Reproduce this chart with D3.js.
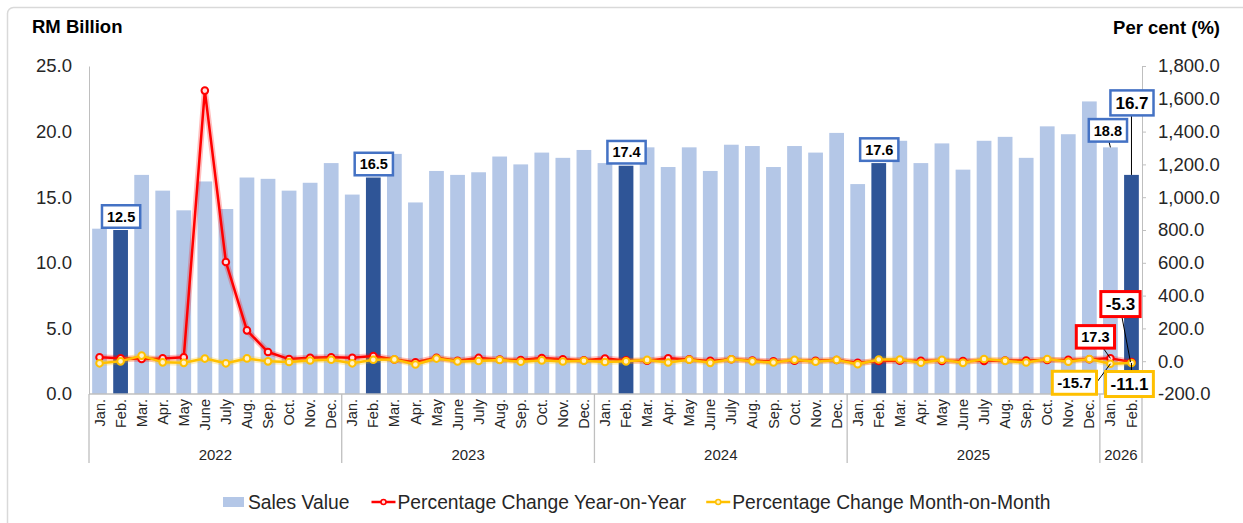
<!DOCTYPE html>
<html>
<head>
<meta charset="utf-8">
<script src="https://cdn.jsdelivr.net/npm/d3@7"></script>
<style>
  body { margin: 0; background: #fff; }
  svg { display: block; font-family: "Liberation Sans", Arial, sans-serif; }
</style>
</head>
<body>
<div id="chart"></div>
<script>
// categories
const years = ["2022", "2023", "2024", "2025", "2026"];
const monthNames = ["Jan.", "Feb.", "Mar.", "Apr.", "May", "June", "July", "Aug.", "Sep.", "Oct.", "Nov.", "Dec."];
const monthsPerYear = [12, 12, 12, 12, 2];

// sales value, RM billion
const sales = [
  12.6, 12.5, 16.7, 15.5, 14.0, 16.2, 14.1, 16.5, 16.4, 15.5, 16.1, 17.6,
  15.2, 16.5, 18.3, 14.6, 17.0, 16.7, 16.9, 18.1, 17.5, 18.4, 18.0, 18.6,
  17.6, 17.4, 18.8, 17.3, 18.8, 17.0, 19.0, 18.9, 17.3, 18.9, 18.4, 19.9,
  16.0, 17.6, 19.3, 17.6, 19.1, 17.1, 19.3, 19.6, 18.0, 20.4, 19.8, 22.3,
  18.8, 16.7
];

// percentage change year-on-year
const yoy = [
  24, 18, 13, 17, 24, 1650, 605, 188, 56, 13, 21, 24,
  21, 32, 10, -6, 21, 3, 20, 10, 7, 19, 12, 6,
  16, 5, 3, 18, 11, 2, 12, 4, -1, 3, 2, 7,
  -9, 1, 3, 2, 2, 1, 2, 4, 4, 8, 8, 12,
  17.3, -5.3
];

// percentage change month-on-month
const mom = [
  -13, -1, 34, -7, -10, 16, -13, 17, -1, -5, 4, 9,
  -13, 9, 11, -20, 16, -2, 1, 7, -3, 5, -2, 3,
  -5, -1, 8, -8, 9, -10, 12, -1, -8, 9, -3, 8,
  -19, 10, 10, -9, 9, -10, 13, 2, -8, 13, -3, 13,
  -15.7, -11.1
];

const leftTicks = [0, 5, 10, 15, 20, 25];
const rightTicks = [-200, 0, 200, 400, 600, 800, 1000, 1200, 1400, 1600, 1800];

// build category list
const cats = [];
years.forEach((y, yi) => {
  for (let m = 0; m < monthsPerYear[yi]; m++) cats.push({ year: y, month: monthNames[m] });
});
const idx = cats.map((d, i) => i);

const W = 1243, H = 523;
const plot = { left: 89, right: 1142, top: 66, bottom: 394 };

// plain hyphen for negatives, like the original
const loc = d3.formatLocale({ decimal: ".", thousands: ",", grouping: [3], currency: ["", ""], minus: "-" });
const fmt = loc.format(".1f");
const fmtR = loc.format(",.1f");

const svg = d3.select("#chart").append("svg")
  .attr("width", W)
  .attr("height", H);

// outer frame (only top / left edges visible in the crop)
svg.append("rect")
  .attr("x", 7.5).attr("y", 7.5)
  .attr("width", 1260).attr("height", 540)
  .attr("rx", 6)
  .attr("fill", "none")
  .attr("stroke", "#d9d9d9")
  .attr("stroke-width", 1.5);

const x = d3.scaleBand()
  .domain(idx)
  .range([plot.left, plot.right])
  .paddingInner(0.3)
  .paddingOuter(0.15);
const step = x.step();

const yL = d3.scaleLinear().domain([0, 25]).range([plot.bottom, plot.top]);
const yR = d3.scaleLinear().domain([-200, 1800]).range([plot.bottom, plot.top]);

const axisGrey = "#bfbfbf";
const textCol = "#262626";

// bars
svg.append("g").selectAll("rect")
  .data(sales)
  .join("rect")
  .attr("x", (d, i) => x(i))
  .attr("y", d => yL(d))
  .attr("width", x.bandwidth())
  .attr("height", d => yL(0) - yL(d))
  .attr("fill", (d, i) => cats[i].month === "Feb." ? "#2f5597" : "#b4c7e7");

// left axis
const leftAxis = svg.append("g")
  .attr("transform", `translate(${plot.left},0)`)
  .call(d3.axisLeft(yL).tickValues(leftTicks).tickFormat(fmt).tickSize(0).tickPadding(17));
leftAxis.select(".domain").attr("stroke", axisGrey);
leftAxis.selectAll("text").attr("font-size", 18.5).attr("fill", textCol).attr("font-family", null);

// right axis
const rightAxis = svg.append("g")
  .attr("transform", `translate(${plot.right},0)`)
  .call(d3.axisRight(yR).tickValues(rightTicks).tickFormat(fmtR).tickSizeInner(4).tickSizeOuter(4).tickPadding(12));
rightAxis.select(".domain").attr("stroke", axisGrey);
rightAxis.selectAll(".tick line").attr("stroke", axisGrey);
rightAxis.selectAll("text").attr("font-size", 18.5).attr("fill", textCol).attr("font-family", null);

// bottom axis line
svg.append("line")
  .attr("x1", plot.left).attr("x2", plot.right)
  .attr("y1", plot.bottom).attr("y2", plot.bottom)
  .attr("stroke", axisGrey).attr("stroke-width", 1.3);

// month labels
svg.append("g").selectAll("text")
  .data(cats)
  .join("text")
  .attr("transform", (d, i) => `translate(${x(i) + x.bandwidth() / 2},399) rotate(-90)`)
  .attr("dy", "0.35em")
  .attr("text-anchor", "end")
  .attr("font-size", 14.5)
  .attr("fill", textCol)
  .text(d => d.month);

// year groups
let start = 0;
const groups = years.map((y, yi) => {
  const g = { year: y, start: start, end: start + monthsPerYear[yi] };
  start = g.end;
  return g;
});
const edge = i => plot.left + i * step;
const sepX = [0].concat(groups.map(g => g.end));
svg.append("g").selectAll("line")
  .data(sepX)
  .join("line")
  .attr("x1", d => edge(d)).attr("x2", d => edge(d))
  .attr("y1", plot.bottom).attr("y2", 463)
  .attr("stroke", axisGrey).attr("stroke-width", 1.3);
svg.append("g").selectAll("text")
  .data(groups)
  .join("text")
  .attr("x", d => (edge(d.start) + edge(d.end)) / 2)
  .attr("y", 460)
  .attr("text-anchor", "middle")
  .attr("font-size", 15)
  .attr("fill", textCol)
  .text(d => d.year);

// lines
const cx = i => x(i) + x.bandwidth() / 2;
function drawSeries(values, color, fillCol) {
  const line = d3.line().x((d, i) => cx(i)).y(d => yR(d));
  svg.append("path")
    .datum(values)
    .attr("d", line)
    .attr("fill", "none")
    .attr("stroke", color)
    .attr("stroke-opacity", 0.25)
    .attr("stroke-width", 6)
    .attr("stroke-linejoin", "round");
  svg.append("path")
    .datum(values)
    .attr("d", line)
    .attr("fill", "none")
    .attr("stroke", color)
    .attr("stroke-width", 2.5)
    .attr("stroke-linejoin", "round");
  svg.append("g").selectAll("circle")
    .data(values)
    .join("circle")
    .attr("cx", (d, i) => cx(i))
    .attr("cy", d => yR(d))
    .attr("r", 3.3)
    .attr("fill", fillCol)
    .attr("stroke", color)
    .attr("stroke-width", 2);
}
drawSeries(yoy, "#ff0000", "#ffe0e0");
drawSeries(mom, "#ffc000", "#fff2cc");

// callout boxes
function callout(bx, by, label, color, size, bw, leader) {
  const g = svg.append("g");
  if (leader) {
    g.append("line")
      .attr("x1", leader[0]).attr("y1", leader[1])
      .attr("x2", leader[2]).attr("y2", leader[3])
      .attr("stroke", "#000").attr("stroke-width", 1);
  }
  const t = g.append("text")
    .attr("x", bx).attr("y", by)
    .attr("dy", "0.36em")
    .attr("text-anchor", "middle")
    .attr("font-size", size)
    .attr("font-weight", "bold")
    .attr("fill", "#000")
    .text(label);
  const w = t.node().getComputedTextLength() + 10;
  const h = size + 8;
  g.insert("rect", "text")
    .attr("x", bx - w / 2).attr("y", by - h / 2)
    .attr("width", w).attr("height", h)
    .attr("fill", "#fff")
    .attr("stroke", color)
    .attr("stroke-width", bw);
}

const blue = "#4472c4";
// Feb bars 2022-2025
[1, 13, 25, 37].forEach(i => {
  callout(cx(i) + 0.5, yL(sales[i]) - 13.5, fmt(sales[i]), blue, 14.5, 2.5);
});
// Jan 2026
callout(cx(48) - 2.5, yL(sales[48]) - 17, fmt(sales[48]), blue, 14.5, 2.5,
  [cx(48) - 1.5, yL(sales[48]) - 6, cx(48), yL(sales[48])]);
// Feb 2026
callout(cx(49) + 0.5, yL(sales[49]) - 72, fmt(sales[49]), blue, 17, 2.5,
  [cx(49), yL(sales[49]) - 60, cx(49), yL(sales[49])]);

// year-on-year labels
callout(cx(48) - 15, yR(yoy[48]) - 21.5, fmt(yoy[48]), "#ff0000", 14.5, 3,
  [cx(48) - 7, yR(yoy[48]) - 10, cx(48), yR(yoy[48])]);
callout(cx(49) - 11, yR(yoy[49]) - 58, fmt(yoy[49]), "#ff0000", 17, 3,
  [cx(49) - 9.5, yR(yoy[49]) - 45, cx(49) - 1, yR(yoy[49])]);

// month-on-month labels
callout(cx(48) - 36, yR(mom[48]) + 19, fmt(mom[48]), "#ffc000", 15, 3,
  [cx(48) - 14, yR(mom[48]) + 19, cx(48), yR(mom[48])]);
callout(cx(49) - 2, yR(mom[49]) + 21, fmt(mom[49]), "#ffc000", 17, 3,
  [cx(49), yR(mom[49]) + 9, cx(49), yR(mom[49])]);

// axis titles
svg.append("text")
  .attr("x", 32).attr("y", 33)
  .attr("font-size", 18.5).attr("font-weight", "bold").attr("fill", "#000")
  .text("RM Billion");
svg.append("text")
  .attr("x", 1220).attr("y", 34)
  .attr("text-anchor", "end")
  .attr("font-size", 18.5).attr("font-weight", "bold").attr("fill", "#000")
  .text("Per cent (%)");

// legend
const leg = svg.append("g").attr("font-size", 19.3).attr("fill", textCol);
let lx = 223;
const ly = 502;
leg.append("rect").attr("x", lx).attr("y", ly - 5).attr("width", 21).attr("height", 10).attr("fill", "#b4c7e7");
lx += 25;
let t = leg.append("text").attr("x", lx).attr("y", ly).attr("dy", "0.35em").text("Sales Value");
lx += t.node().getComputedTextLength() + 22;
[["#ff0000", "#ffe0e0", "Percentage Change Year-on-Year"],
 ["#ffc000", "#fff2cc", "Percentage Change Month-on-Month"]].forEach(([c, f, label]) => {
  leg.append("line").attr("x1", lx).attr("x2", lx + 24).attr("y1", ly).attr("y2", ly)
    .attr("stroke", c).attr("stroke-width", 2.5);
  leg.append("circle").attr("cx", lx + 12).attr("cy", ly).attr("r", 2.5)
    .attr("fill", f).attr("stroke", c).attr("stroke-width", 1.5);
  lx += 26;
  const tt = leg.append("text").attr("x", lx).attr("y", ly).attr("dy", "0.35em").text(label);
  lx += tt.node().getComputedTextLength() + 20;
});
</script>
</body>
</html>
